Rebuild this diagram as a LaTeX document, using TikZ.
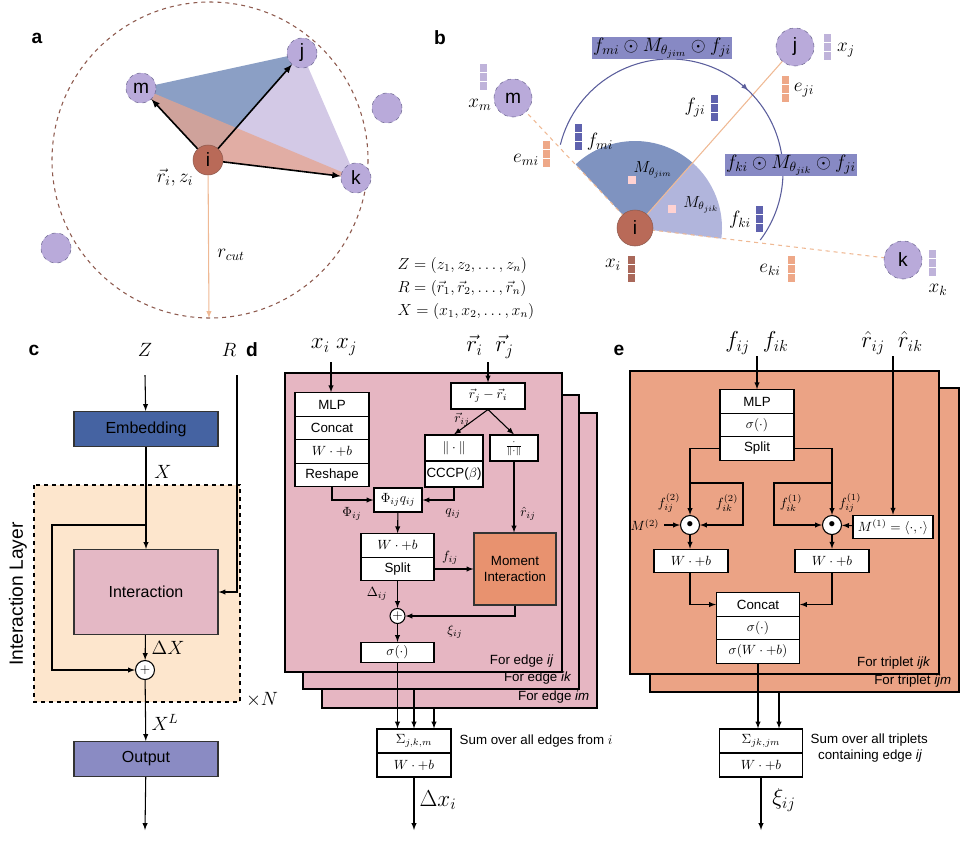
\documentclass[tikz,border=0pt]{standalone}
\usepackage{fontspec}
\setmainfont{Liberation Sans}
\usepackage{amsmath}
\usetikzlibrary{decorations.markings}

\definecolor{atom}{HTML}{B9AADA}
\definecolor{atomline}{HTML}{6E6892}
\definecolor{center}{HTML}{B96A58}
\definecolor{cut}{HTML}{8E5A4E}
\definecolor{triblue}{HTML}{8B9FC5}
\definecolor{trilav}{HTML}{D3C9E6}
\definecolor{trisal}{HTML}{E6A48E}
\definecolor{bond}{HTML}{EFB994}
\definecolor{featblue}{HTML}{5F62AE}
\definecolor{featsal}{HTML}{EEA888}
\definecolor{featbrown}{HTML}{A9685A}
\definecolor{featlav}{HTML}{BFB3DA}
\definecolor{secdark}{HTML}{7F93C0}
\definecolor{seclight}{HTML}{B1B5DC}
\definecolor{arcline}{HTML}{5B5E9C}
\definecolor{tagfill}{HTML}{8789C4}
\definecolor{embed}{HTML}{4563A2}
\definecolor{outp}{HTML}{8A8BC3}
\definecolor{inter}{HTML}{E4B8C5}
\definecolor{layerbg}{HTML}{FDE6CD}
\definecolor{edgebg}{HTML}{E6B6C2}
\definecolor{moment}{HTML}{E8926F}
\definecolor{tripbg}{HTML}{EBA385}

\newcommand{\px}{0.75pt}
% three-cell feature vector
\newcommand{\featvec}[3]{%
  \foreach \s in {0,1,2}
    \draw[white, fill=#3] (#1-4, #2-13+\s*9) rectangle ++(8,9);}

\tikzset{
  panel/.style = {font=\bfseries\Large},
  atomn/.style = {circle, draw=atomline, dashed, fill=atom, minimum size=#1*\px, inner sep=0, font=\Large},
  blk/.style = {draw, thick, fill=white, inner sep=0, minimum width=#1*\px, minimum height=23.5*\px, font=\normalsize},
  big/.style = {draw=black!80, thick, inner sep=0, font=\large},
  op/.style = {circle, draw, thick, fill=white, inner sep=0, minimum size=19*\px},
  lab/.style = {font=\normalsize},
  mlab/.style = {font=\Large},
  inp/.style = {font=\LARGE},
  flow/.style = {thick, ->},
  tag/.style = {fill=tagfill, inner sep=1pt, minimum height=18*\px, font=\Large}
}

\begin{document}
\begin{tikzpicture}[x=0.75pt, y=-0.75pt, >=latex]
  \useasboundingbox (0,0) rectangle (960,844);

  % ---------- a ----------
  \node[panel] (la) at (37,38) {a};
  \draw[cut, dashed, thick] (210,160) circle (158);
  \coordinate (ai) at (208,160);
  \coordinate (am) at (141,88);
  \coordinate (aj) at (302,53);
  \coordinate (ak) at (356,178);
  \fill[triblue] (am) -- (aj) -- (ai) -- cycle;
  \fill[trilav] (aj) -- (ak) -- (ai) -- cycle;
  \fill[trisal, opacity=0.75] (am) -- (ai) -- (ak) -- cycle;
  \node[atomn=30] (m) at (am) {m};
  \node[atomn=30] (j) at (aj) {j};
  \node[atomn=30] (k) at (ak) {k};
  \node[atomn=30] (o1) at (387,108) {};
  \node[atomn=30] (o2) at (56,248) {};
  \node[circle, draw=cut, fill=center, minimum size=30*\px, inner sep=0, font=\Large] (i) at (ai) {i};
  \coordinate (rc) at (209,318);
  \draw[bond, thick, ->] (i) -- (rc);
  \draw[very thick, ->] (i) -- (m);
  \draw[very thick, ->] (i) -- (j);
  \draw[very thick, ->] (i) -- (k);
  \node[mlab] (ri) at (175,178) {$\vec r_i, z_i$};
  \node[mlab] (rcut) at (231,255) {$r_{cut}$};

  % ---------- b ----------
  \node[panel] (lb) at (440,38) {b};
  \coordinate (bi) at (635,228);
  \coordinate (bc) at (670,172);
  \fill[secdark] (bi) -- ++(-133:87) arc (-133:-48.5:87) -- cycle;
  \fill[seclight] (bi) -- ++(-48.5:87) arc (-48.5:7:87) -- cycle;
  \node[atomn=38] (bm) at (513,98) {m};
  \node[atomn=38] (bj) at (795,47) {j};
  \node[atomn=38] (bk) at (903,260) {k};
  \draw[bond, thick] (bi) -- (bj);
  \draw[bond, thick, dashed] (bi) -- (bm);
  \draw[bond, thick, dashed] (bi) -- (bk);
  \node[circle, draw=cut, fill=center, minimum size=36*\px, inner sep=0, font=\Large] (b0) at (bi) {i};
  \draw[arcline, thick, postaction={decorate}, decoration={markings, mark=at position 0.59 with {\arrow{>}}}]
    (bc) ++(-166:113) arc (-166:37:113);
  \node[tag] (t1) at (662,48) {$f_{mi}\odot M_{\theta_{jim}}\odot f_{ji}$};
  \node[tag] (t2) at (791,165) {$f_{ki}\odot M_{\theta_{jik}}\odot f_{ji}$};
  \fill[pink!70] (628,176) rectangle ++(8,8);
  \fill[pink!70] (668,205) rectangle ++(8,8);
  \node[mlab, font=\large] (mjim) at (653,170) {$M_{\theta_{jim}}$};
  \node[mlab, font=\large] (mjik) at (701,205) {$M_{\theta_{jik}}$};
  \featvec{483}{76}{featlav}
  \featvec{546}{153}{featsal}
  \featvec{578}{136}{featblue}
  \featvec{714}{107}{featblue}
  \featvec{785}{88}{featsal}
  \featvec{827}{46}{featlav}
  \featvec{759}{218}{featblue}
  \featvec{791}{268}{featsal}
  \featvec{631}{268}{featbrown}
  \featvec{932}{262}{featlav}
  \node[mlab] (xm) at (480,105) {$x_m$};
  \node[mlab] (emi) at (526,160) {$e_{mi}$};
  \node[mlab] (fmi) at (600,142) {$f_{mi}$};
  \node[mlab] (fji) at (695,108) {$f_{ji}$};
  \node[mlab] (eji) at (804,90) {$e_{ji}$};
  \node[mlab] (xj) at (846,50) {$x_j$};
  \node[mlab] (fki) at (740,220) {$f_{ki}$};
  \node[mlab] (eki) at (770,270) {$e_{ki}$};
  \node[mlab] (xi) at (613,265) {$x_i$};
  \node[mlab] (xk) at (938,290) {$x_k$};

  \node[anchor=west, font=\large] (eqz) at (393,265) {$Z=(z_1,z_2,\dots,z_n)$};
  \node[anchor=west, font=\large] (eqr) at (393,288) {$R=(\vec r_1,\vec r_2,\dots,\vec r_n)$};
  \node[anchor=west, font=\large] (eqx) at (393,311) {$X=(x_1,x_2,\dots,x_n)$};

  % ---------- c ----------
  \node[panel] (lc) at (34,350) {c};
  \draw[dashed, very thick, fill=layerbg] (34,485) rectangle (240,702);
  \node[rotate=90, font=\Large] (ilay) at (18,594) {Interaction Layer};
  \node[mlab] (zc) at (145,350) {$Z$};
  \node[mlab] (rcc) at (229,350) {$R$};
  \node[big, fill=embed, minimum width=144*\px, minimum height=35*\px] (emb) at (146,429) {Embedding};
  \node[big, fill=inter, minimum width=144*\px, minimum height=85*\px] (int) at (146,592) {Interaction};
  \node[op] (pc) at (145,670) {$+$};
  \node[big, fill=outp, minimum width=144*\px, minimum height=35*\px] (out) at (146,759) {Output};
  \coordinate (zs) at (145,375);
  \coordinate (rs) at (237,375);
  \coordinate (cs) at (145,525);
  \coordinate (cl) at (52,525);
  \coordinate (cend) at (145,830);
  \draw[flow] (zs) -- (emb);
  \draw[flow] (emb) -- (int);
  \draw[flow] (cs) -- (cl) |- (pc.west);
  \draw[flow] (rs) |- (int.east);
  \draw[flow] (int) -- (pc);
  \draw[flow] (pc) -- (out);
  \draw[flow] (out) -- (cend);
  \node[mlab] (xc) at (163,472) {$X$};
  \node[mlab] (dxc) at (168,648) {$\Delta X$};
  \node[mlab] (xl) at (165,722) {$X^L$};
  \node[mlab] (nc) at (262,700) {$\times N$};

  % ---------- d ----------
  \node[panel] (ld) at (252,350) {d};
  \draw[thick, fill=edgebg] (322,413) rectangle (597,708);
  \draw[thick, fill=edgebg] (303,395) rectangle (579,689);
  \draw[thick, fill=edgebg] (285,373) rectangle (562,672);
  \node[lab, anchor=south east] (fe1) at (558,672) {For edge \emph{ij}};
  \node[lab, anchor=south east] (fe2) at (576,689) {For edge \emph{ik}};
  \node[lab, anchor=south east] (fe3) at (594,708) {For edge \emph{im}};
  \node[inp] (xij) at (334,347) {$x_i\ x_j$};
  \node[inp] (rij) at (490,347) {$\vec r_i\ \ \vec r_j$};
  \coordinate (dx) at (331,362);
  \coordinate (dr) at (488,362);
  \node[blk=74] (mlp) at (332,404.5) {MLP};
  \node[blk=74] (cat) at (332,428) {Concat};
  \node[blk=74] (wb1) at (332,451.5) {$W\cdot{+}b$};
  \node[blk=74] (resh) at (332,475) {Reshape};
  \node[blk=74, minimum height=26*\px] (diff) at (488,396) {$\vec r_j-\vec r_i$};
  \node[blk=58, minimum height=26*\px] (norm) at (454,448) {$\|\cdot\|$};
  \node[blk=58, minimum height=26*\px] (cccp) at (454,474) {CCCP($\beta$)};
  \node[blk=48, minimum height=26*\px] (unit) at (514,448) {$\frac{\cdot}{\|\cdot\|}$};
  \node[blk=48, minimum height=24*\px] (phiq) at (398,500) {$\Phi_{ij}q_{ij}$};
  \node[blk=73] (wb2) at (397.5,545.5) {$W\cdot{+}b$};
  \node[blk=73] (split) at (397.5,569) {Split};
  \node[big, fill=moment, minimum width=82*\px, minimum height=72*\px, align=center, font=\normalsize] (mom) at (515,569) {Moment\\Interaction};
  \node[op, minimum size=15*\px] (pd) at (397.5,616) {$+$};
  \node[blk=73, minimum height=20*\px] (sigd) at (397.5,652.5) {$\sigma(\cdot)$};
  \node[blk=74, minimum height=24*\px] (sum1) at (414,741) {$\Sigma_{j,k,m}$};
  \node[blk=74, minimum height=24*\px] (wb3) at (414,765) {$W\cdot{+}b$};
  \node[lab, anchor=west] (sumt) at (455,741) {Sum over all edges from $i$};
  \coordinate (dl2) at (414,689);
  \coordinate (dl3) at (434,708);
  \coordinate (dend) at (414,830);
  \draw[flow] (dx) -- (mlp.north -| dx);
  \draw[flow] (dr) -- (diff);
  \draw[flow] (diff.south) -- (norm.north);
  \draw[flow] (diff.south) -- (unit.north);
  \draw[flow] (resh.south) |- (phiq.west);
  \draw[flow] (cccp.south) |- (phiq.east);
  \draw[flow] (unit.south) -- (mom.north -| unit.south);
  \draw[flow] (phiq) -- (wb2);
  \draw[flow] (split.east) -- (split.east -| mom.west);
  \draw[flow] (split) -- (pd);
  \draw[flow] (mom.south) |- (pd.east);
  \draw[flow] (pd) -- (sigd);
  \draw[flow] (sigd.south) -- (sum1.north -| sigd.south);
  \draw[flow] (dl2) -- (sum1.north -| dl2);
  \draw[flow] (dl3) -- (sum1.north -| dl3);
  \draw[flow] (wb3) -- (dend);
  \node[lab] (rvij) at (462,420) {$\vec r_{ij}$};
  \node[lab] (phil) at (352,514) {$\Phi_{ij}$};
  \node[lab] (ql) at (453,514) {$q_{ij}$};
  \node[lab] (rhl) at (528,514) {$\hat r_{ij}$};
  \node[lab] (fl) at (450,558) {$f_{ij}$};
  \node[lab] (dl) at (377,594) {$\Delta_{ij}$};
  \node[lab] (xil) at (455,632) {$\xi_{ij}$};
  \node[inp] (dxi) at (438,800) {$\Delta x_i$};

  % ---------- e ----------
  \node[panel] (le) at (619,350) {e};
  \draw[thick, fill=tripbg] (650,388) rectangle (959,692);
  \draw[thick, fill=tripbg] (630,371) rectangle (939,674);
  \node[lab, anchor=south east] (ft1) at (935,674) {For triplet \emph{ijk}};
  \node[lab, anchor=south east] (ft2) at (956,692) {For triplet \emph{ijm}};
  \node[inp] (fin) at (757,343) {$f_{ij}\ \ f_{ik}$};
  \node[inp] (rin) at (892,343) {$\hat r_{ij}\ \ \hat r_{ik}$};
  \coordinate (ef) at (757,356);
  \coordinate (er) at (893,356);
  \node[blk=74] (emlp) at (757,401.5) {MLP};
  \node[blk=74] (esig) at (757,425) {$\sigma(\cdot)$};
  \node[blk=74] (esplit) at (757,448.5) {Split};
  \node[op] (od2) at (690,525) {$\bullet$};
  \node[op] (od1) at (832,525) {$\bullet$};
  \node[blk=80] (m1) at (893,527) {$M^{(1)}=\langle\cdot,\cdot\rangle$};
  \node[lab, anchor=east] (m2) at (664,525) {$M^{(2)}$};
  \node[blk=74] (wbl) at (691,561) {$W\cdot{+}b$};
  \node[blk=74] (wbr) at (832,561) {$W\cdot{+}b$};
  \node[blk=83] (ecat) at (758,604.5) {Concat};
  \node[blk=83] (esg2) at (758,628) {$\sigma(\cdot)$};
  \node[blk=83] (ewb) at (758,651.5) {$\sigma(W\cdot{+}b)$};
  \node[blk=83, minimum height=24*\px] (esum) at (761,741) {$\Sigma_{jk,jm}$};
  \node[blk=83, minimum height=24*\px] (ewb2) at (761,765) {$W\cdot{+}b$};
  \node[lab, anchor=west, align=left] (esumt) at (806,748) {Sum over all triplets\\\ \ containing edge \emph{ij}};
  \coordinate (l2a) at (690,483);
  \coordinate (l2c) at (743,525);
  \coordinate (l1a) at (832,483);
  \coordinate (l1c) at (774,525);
  \coordinate (el2) at (779,692);
  \coordinate (eend) at (761,830);
  \draw[flow] (ef) -- (emlp);
  \draw[flow] (er) -- (m1);
  \draw[flow] (esplit.west) -| (od2);
  \draw[flow] (esplit.east) -| (od1);
  \draw[flow] (l2a) -| (l2c) -- (od2);
  \draw[flow] (l1a) -| (l1c) -- (od1);
  \draw[flow] (m2) -- (od2);
  \draw[flow] (m1) -- (od1);
  \draw[flow] (od2) -- (wbl.north -| od2);
  \draw[flow] (od1) -- (wbr);
  \draw[flow] (wbl.south -| od2) |- (ecat.west);
  \draw[flow] (wbr.south) |- (ecat.east);
  \draw[flow] (ewb.south) -- (esum.north -| ewb.south);
  \draw[flow] (el2) -- (esum.north -| el2);
  \draw[flow] (ewb2) -- (eend);
  \node[lab] (f2ij) at (669,503) {$f_{ij}^{(2)}$};
  \node[lab] (f2ik) at (727,503) {$f_{ik}^{(2)}$};
  \node[lab] (f1ik) at (791,503) {$f_{ik}^{(1)}$};
  \node[lab] (f1ij) at (850,503) {$f_{ij}^{(1)}$};
  \node[inp] (xiij) at (784,800) {$\xi_{ij}$};
\end{tikzpicture}
\end{document}
